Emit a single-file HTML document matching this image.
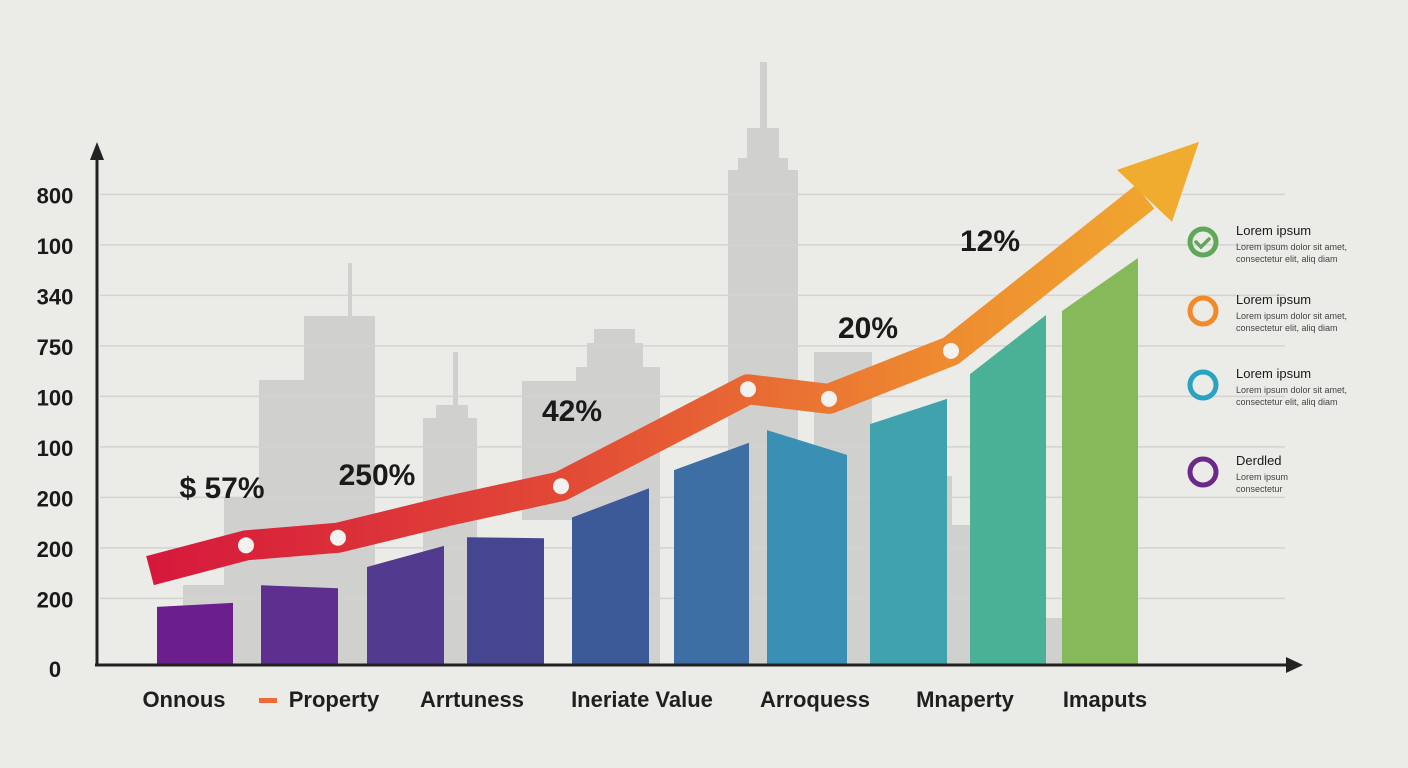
<!DOCTYPE html>
<html><head><meta charset="utf-8"><style>
html,body{margin:0;padding:0;width:1408px;height:768px;overflow:hidden;background:#ebebe7;}
svg{display:block;font-family:"Liberation Sans",sans-serif;}
</style></head><body>
<svg id="c" width="1408" height="768" viewBox="0 0 1408 768">
<defs>
<linearGradient id="lg" x1="150" y1="0" x2="1200" y2="0" gradientUnits="userSpaceOnUse">
<stop offset="0" stop-color="#d6183c"/><stop offset="0.4" stop-color="#e24a36"/><stop offset="0.75" stop-color="#ee8a30"/><stop offset="1" stop-color="#f0ac2e"/>
</linearGradient>
</defs>
<g id="bg" fill="#d0d0cf"></g>
<g id="grid"></g>
<g id="bars"></g>
<g id="line"></g>
<g id="axes"></g>
<g id="labels"></g>
<g id="legend"></g>
</svg>
<script>
const categories=["Onnous","Property","Arrtuness","Ineriate Value","Arroquess","Mnaperty","Imaputs"];
const catX=[184,334,472,642,815,965,1105];
const yTickLabels=["0","200","200","200","100","100","750","340","100","800"];
const yTickValues=[0,1.3,2.3,3.3,4.3,5.3,6.3,7.3,8.3,9.3];
const barLeftValues=[1.13,1.56,1.92,2.51,2.9,3.84,4.63,4.75,5.74,6.99];
const barRightValues=[1.21,1.5,2.34,2.49,3.48,4.38,4.14,5.25,6.91,8.04];
const barColors=["#6a1f8c","#5e2f8e","#523b8e","#45468f","#3d5a98","#3d6fa4","#3a8fb4","#3fa2ad","#4ab096","#86b95a"];
const lineX=[150,246,338,450,561,748,829,951,1145];
const lineValues=[1.85,2.35,2.5,3.04,3.52,5.44,5.25,6.2,9.25];
const dotIndex=[1,2,4,5,6,7];
const pctLabels=["$ 57%","250%","42%","20%","12%"];
const pctPos=[[222,487],[377,474],[572,410],[868,327],[990,240]];
const legendTitles=["Lorem ipsum","Lorem ipsum","Lorem ipsum","Derdled"];
const legendColors=["#5fa85a","#f28a2a","#2aa3c2","#6a2a8c"];
const legendY=[242,311,385,472];

const NS="http://www.w3.org/2000/svg";
const y0=664,unit=50.5;
function yS(v){return y0-v*unit;}
function bx(i){return 157+i*(1062-157)/9 + (i>=6?0:0);}
const barXs=[157,261,367,467,572,674,767,870,970,1062];
const barW=[76,77,77,77,77,75,80,77,76,76];
function mk(tag,attrs,parent){const e=document.createElementNS(NS,tag);for(const k in attrs)e.setAttribute(k,attrs[k]);parent.appendChild(e);return e;}

// skyline
const bg=document.getElementById('bg');
[[183,585,80,79],[224,497,36,167],[259,380,116,284],[304,316,71,64],[348,263,4,60],[423,418,54,246],[436,405,32,20],[453,352,5,55],[522,381,54,139],[576,367,84,297],[587,343,56,30],[594,329,41,20],[728,170,70,494],[738,158,50,20],[747,128,32,35],[760,62,7,70],[814,352,58,312],[947,525,23,139],[946,476,6,60],[1046,618,16,46]].forEach(r=>{
 const e=mk('rect',{x:r[0],y:r[1],width:r[2],height:r[3]},bg);
 
 
});

// grid & y ticks
const grid=document.getElementById('grid'),labels=document.getElementById('labels');
yTickValues.forEach((v,i)=>{
 if(i>0){const l=mk('line',{x1:100,x2:1285,y1:yS(v),y2:yS(v),stroke:'#d3d3d1','stroke-width':1.5},grid);
 
 }
 const t=mk('text',{x:55,y:yS(v)+9+(i===0?4:0),'text-anchor':'middle','font-size':22,'font-weight':'bold',fill:'#1a1a1a'},labels);
 t.textContent=yTickLabels[i];
 
 
});

// bars
const bars=document.getElementById('bars');
barLeftValues.forEach((v,i)=>{
 const x=barXs[i],w=barW[i];
 const p=mk('polygon',{points:`${x},${y0} ${x},${yS(v)} ${x+w},${yS(barRightValues[i])} ${x+w},${y0}`,fill:barColors[i]},bars);
 
 
});

// line
const line=document.getElementById('line');
const pts=lineX.map((x,i)=>[x,yS(lineValues[i])]);
const pl=mk('polyline',{points:pts.map(p=>p.join(',')).join(' '),fill:'none',stroke:'url(#lg)','stroke-width':30,'stroke-linejoin':'round'},line);


const tip=pts[pts.length-1];
const ah=mk('polygon',{points:`${tip[0]-28},${tip[1]-27} ${tip[0]+54},${tip[1]-55} ${tip[0]+27},${tip[1]+25}`,fill:'#f0ac2e'},line);


dotIndex.forEach(i=>{
 const c=mk('circle',{cx:pts[i][0],cy:pts[i][1],r:8,fill:'#f4f2ef'},line);
 
 
});

// axes
const ax=document.getElementById('axes');
mk('line',{x1:97,y1:150,x2:97,y2:666,stroke:'#222','stroke-width':3},ax);
mk('polygon',{points:'90,160 97,142 104,160',fill:'#222'},ax);
mk('line',{x1:95,y1:665,x2:1292,y2:665,stroke:'#222','stroke-width':3},ax);
mk('polygon',{points:'1286,657 1303,665 1286,673',fill:'#222'},ax);

// category labels
categories.forEach((c,i)=>{
 const t=mk('text',{x:catX[i],y:707,'text-anchor':'middle','font-size':22,'font-weight':'bold',fill:'#1f1f1f'},labels);
 t.textContent=c;
 
 
});
const m=mk('rect',{x:259,y:698,width:18,height:5,fill:'#ef6a3a'},labels);



// pct labels
pctLabels.forEach((s,i)=>{
 const t=mk('text',{x:pctPos[i][0],y:pctPos[i][1]+11,'text-anchor':'middle','font-size':30,'font-weight':'bold',fill:'#1a1a1a'},labels);
 t.textContent=s;
 
 
});

// legend
const lg=document.getElementById('legend');
legendTitles.forEach((s,i)=>{
 const y=legendY[i];
 const c=mk('circle',{cx:1203,cy:y,r:13,fill:'none',stroke:legendColors[i],'stroke-width':5},lg);
 
 
 if(i===0){mk('path',{d:`M1196,${y} l5,5 l8,-8`,fill:'none',stroke:legendColors[0],'stroke-width':3.5,'stroke-linecap':'round'},lg);}
 const t=mk('text',{x:1236,y:y-7,'font-size':13,fill:'#1a1a1a'},lg);
 t.textContent=s;
 
 
 const sub=i<3?["Lorem ipsum dolor sit amet,","consectetur elit, aliq diam"]:["Lorem ipsum","consectetur"];
 sub.forEach((ln,j)=>{
  const u=mk('text',{x:1236,y:y+8+j*12,'font-size':9,fill:'#444'},lg);
  u.textContent=ln;
  
  
 });
});
</script>
</body></html>
